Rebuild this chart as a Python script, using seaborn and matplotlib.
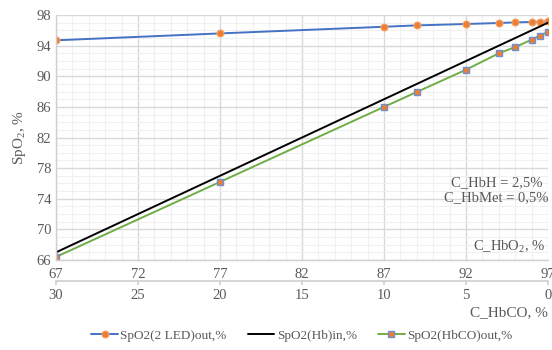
import matplotlib
matplotlib.use("Agg")
import matplotlib.pyplot as plt
import matplotlib.ticker as mticker
import seaborn as sns

# ── Data ───────────────────────────────────────────────────
c_hbo2 = [67, 77, 87, 89, 92, 94, 95, 96, 96.5, 97]          # C_HbO2, %
spo2_2led = [94.7, 95.6, 96.47, 96.65, 96.83, 96.96, 97.04, 97.09, 97.13, 97.17]
spo2_hb_in = [67, 77, 87, 89, 92, 94, 95, 96, 96.5, 97]
spo2_hbco = [66.4, 76.2, 86.0, 87.95, 90.86, 93.0, 93.82, 94.78, 95.3, 95.82]
hbo2_ticks = [67, 72, 77, 82, 87, 92, 97]
hbco_ticks = [30, 25, 20, 15, 10, 5, 0]
spo2_ticks = [66, 70, 74, 78, 82, 86, 90, 94, 98]

# ── Style ──────────────────────────────────────────────────
sns.set_theme(style="white")
plt.rcParams["font.family"] = ["Liberation Serif", "DejaVu Serif"]
plt.rcParams.update({"mathtext.fontset": "custom",
                     "mathtext.rm": "Liberation Serif",
                     "font.size": 10.5})

BLUE, ORANGE, GREEN = "#4472C4", "#ED7D31", "#70AD47"
TXT = "#595959"

fig = plt.figure(figsize=(5.52, 3.5), dpi=100)
ax = fig.add_axes([0.1014, 0.2571, 0.8914, 0.6999])

sns.lineplot(x=c_hbo2, y=spo2_2led, ax=ax, color=BLUE, lw=1.4, marker="o",
             markersize=5, markerfacecolor=ORANGE, markeredgecolor="#F4A46A",
             markeredgewidth=0.8, label="SpO2(2 LED)out,%")
sns.lineplot(x=c_hbo2, y=spo2_hb_in, ax=ax, color="black", lw=1.4,
             label="SpO2(Hb)in,%")
sns.lineplot(x=c_hbo2, y=spo2_hbco, ax=ax, color=GREEN, lw=1.4, marker="s",
             markersize=4, markerfacecolor=ORANGE, markeredgecolor="#6F8FD0",
             markeredgewidth=1.0, label="SpO2(HbCO)out,%")

ax.set_xlim(67, 97)
ax.set_ylim(66, 98)
ax.set_xticks(hbo2_ticks)
ax.set_yticks(spo2_ticks)
ax.xaxis.set_minor_locator(mticker.MultipleLocator(1))
ax.yaxis.set_minor_locator(mticker.MultipleLocator(1))
ax.grid(which="major", color="#D9D9D9", lw=1.0)
ax.grid(which="minor", color="#F0F0F0", lw=0.8)
ax.set_axisbelow(True)
ax.tick_params(which="both", length=0, colors=TXT, labelsize=10.5)
ax.tick_params(axis="x", pad=6)
for s in ["top", "right"]:
    ax.spines[s].set_visible(False)
for s in ["bottom", "left"]:
    ax.spines[s].set_color("#D0D0D0")
    ax.spines[s].set_linewidth(1.0)

ax.set_ylabel("SpO$_\\mathregular{2}$, %", color=TXT, fontsize=11, labelpad=6)
ax.set_xlabel("")

# second scale: C_HbCO = 97 - C_HbO2
sec = ax.secondary_xaxis(-0.086, functions=(lambda v: 97 - v, lambda v: 97 - v))
sec.set_xticks(hbco_ticks)
sec.spines["bottom"].set_color("#D0D0D0")
sec.tick_params(direction="out", length=3, color="#D0D0D0", colors=TXT,
                labelsize=10.5, pad=3)
sec.set_xlabel("C_HbCO, %", color=TXT, fontsize=11, loc="right", labelpad=3)

ax.text(0.995, 0.02, "C_HbO$_\\mathregular{2}$, %", transform=ax.transAxes,
        ha="right", va="bottom", color=TXT, fontsize=10.5)
ax.text(0.895, 0.285, "C_HbH = 2,5%\nC_HbMet = 0,5%", transform=ax.transAxes,
        ha="center", va="center", color=TXT, fontsize=10.5, linespacing=1.25)

ax.legend(loc="center", bbox_to_anchor=(0.5, -0.31), ncol=3, frameon=False,
          fontsize=9.5, handlelength=2.0, handletextpad=0.2,
          columnspacing=1.6, labelcolor=TXT)

fig.savefig("out.png", dpi=100)
